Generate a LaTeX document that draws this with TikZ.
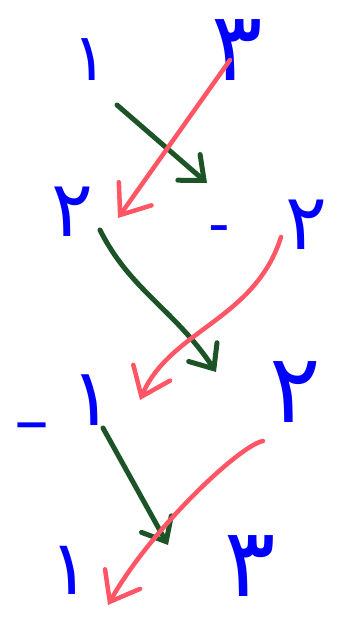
\documentclass[tikz,border=0pt]{standalone}
\usepackage{fontspec}
\newfontfamily\arabicfont[Script=Arabic]{DejaVu Sans}
\usetikzlibrary{arrows.meta}
\definecolor{inkblue}{RGB}{0,0,255}
\definecolor{inkgreen}{RGB}{28,84,40}
\definecolor{inkred}{RGB}{255,85,100}
\begin{document}
\begin{tikzpicture}[x=1pt,y=-1pt,
  digit/.style={text=inkblue, font=\arabicfont\fontsize{#1}{#1}\selectfont, inner sep=0pt},
  digit/.default=70,
  greenarrow/.style={draw=inkgreen, line width=5pt, line cap=round, line join=round,
    -{Straight Barb[length=20pt,width=34pt,line cap=round]}},
  redarrow/.style={draw=inkred, line width=4.5pt, line cap=round, line join=round,
    -{Straight Barb[length=26pt,width=40pt,line cap=round]}}]
\useasboundingbox (0,0) rectangle (342,622);
% digits
\node[digit=66] (a11) at (90,60) {۱};
\node[digit=96] (a13) at (237,50) {۳};
\node[digit=78] (a21) at (72,212) {۲};
\node[digit=60] (m1) at (219,235) {-};
\node[digit=78] (a23) at (306,225) {۲};
\node[digit=80] (a31) at (92,400) {۱};
\node[digit=70] (m2) at (32,434) {–};
\node[digit=96] (a33) at (295,392) {۲};
\node[digit=76] (a41) at (70,570) {۱};
\node[digit=96] (a43) at (250,566) {۳};
% connector endpoints
\coordinate (g1s) at (117,105);
\coordinate (g1e) at (207,183);
\coordinate (g2s) at (100,230);
\coordinate (g2e) at (216,372);
\coordinate (g3s) at (103,428);
\coordinate (g3e) at (168,545);
\coordinate (r1s) at (230,60);
\coordinate (r1e) at (118,218);
\coordinate (r2s) at (281,237);
\coordinate (r2e) at (140,400);
\coordinate (r3s) at (263,441);
\coordinate (r3e) at (108,605);
% green arrows
\draw[greenarrow] (g1s) -- (g1e);
\draw[greenarrow] (g2s) .. controls (130,290) and (175,310) .. (g2e);
\draw[greenarrow] (g3s) -- (g3e);
% red arrows
\draw[redarrow] (r1s) -- (r1e);
\draw[redarrow] (r2s) .. controls (255,320) and (170,330) .. (r2e);
\draw[redarrow] (r3s) .. controls (240,445) and (150,530) .. (r3e);
\end{tikzpicture}
\end{document}
